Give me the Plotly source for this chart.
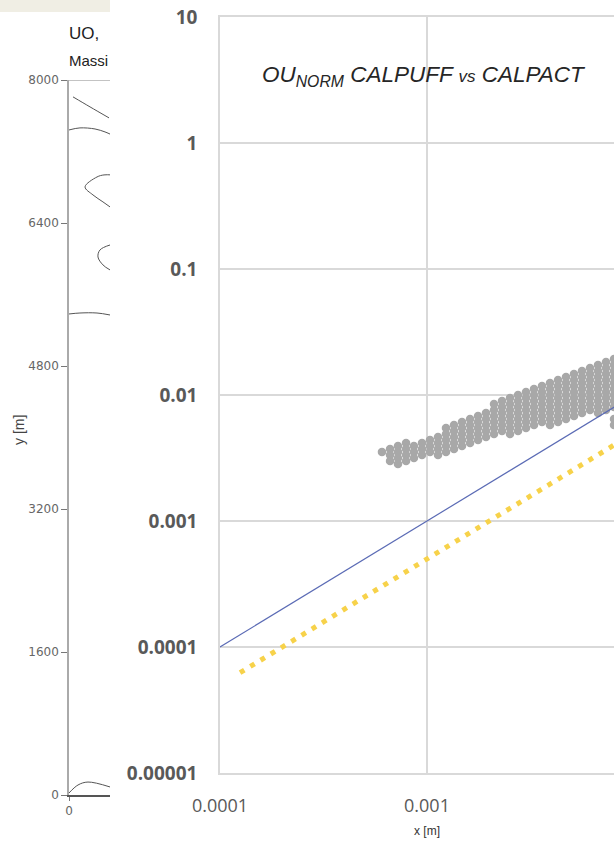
import plotly.graph_objects as go

# ---------------- Left (background) chart data ----------------
left_y_ticks = [0, 1600, 3200, 4800, 6400, 8000]
left_x_ticks = [0]

contour_a_x = [45, 236, 449]
contour_a_y = [7811, 7699, 7576]
contour_b_x = [0, 123, 292, 404, 482]
contour_b_y = [7441, 7464, 7452, 7419, 7385]
contour_c_x = [482, 393, 314, 180, 269, 381, 460]
contour_c_y = [6938, 6938, 6915, 6804, 6714, 6636, 6580]
contour_d_x = [460, 348, 325, 381, 460]
contour_d_y = [6154, 6099, 6020, 5931, 5875]
contour_e_x = [0, 123, 314, 460]
contour_e_y = [5382, 5393, 5393, 5371]
contour_f_x = [0, 101, 213, 460]
contour_f_y = [22, 112, 145, 90]

# ---------------- Right chart data ----------------
one_to_one_x = [1e-4, 1e-1]
one_to_one_y = [1e-4, 1e-1]
half_line_x = [1.25e-4, 1e-1]
half_line_y = [6.25e-5, 5e-2]

cloud_x_cols = [0.000606, 0.000663, 0.000724, 0.000792, 0.000865, 0.000946,
                0.001034, 0.001130, 0.001235, 0.001350, 0.001476, 0.001614,
                0.001764, 0.001928, 0.002107, 0.002304, 0.002518, 0.002752,
                0.003008, 0.003288, 0.003594, 0.003928, 0.004295, 0.004694,
                0.005131, 0.005609, 0.006130, 0.006701, 0.007323, 0.008005,
                0.008750]
cloud_y_cols = [
    [0.00353],
    [0.00373, 0.00334, 0.00299],
    [0.00394, 0.00353, 0.00316, 0.00283],
    [0.00416, 0.00373, 0.00334, 0.00299],
    [0.00394, 0.00353, 0.00316],
    [0.00416, 0.00373, 0.00334],
    [0.00439, 0.00394, 0.00353],
    [0.00464, 0.00416, 0.00373, 0.00334],
    [0.00547, 0.00490, 0.00439, 0.00394, 0.00353],
    [0.00578, 0.00518, 0.00464, 0.00416, 0.00373],
    [0.00611, 0.00547, 0.00490, 0.00439, 0.00394],
    [0.00645, 0.00578, 0.00518, 0.00464, 0.00416],
    [0.00681, 0.00611, 0.00547, 0.00490, 0.00439],
    [0.00720, 0.00645, 0.00578, 0.00518, 0.00464],
    [0.00848, 0.00760, 0.00681, 0.00611, 0.00547, 0.00490],
    [0.00896, 0.00803, 0.00720, 0.00645, 0.00578, 0.00518],
    [0.00947, 0.00848, 0.00760, 0.00681, 0.00611, 0.00547, 0.00490],
    [0.01000, 0.00896, 0.00803, 0.00720, 0.00645, 0.00578, 0.00518],
    [0.01056, 0.00947, 0.00848, 0.00760, 0.00681, 0.00611, 0.00547],
    [0.01116, 0.01000, 0.00896, 0.00803, 0.00720, 0.00645, 0.00578],
    [0.01179, 0.01056, 0.00947, 0.00848, 0.00760, 0.00681, 0.00611],
    [0.01245, 0.01116, 0.01000, 0.00896, 0.00803, 0.00720, 0.00645, 0.00578],
    [0.01315, 0.01179, 0.01056, 0.00947, 0.00848, 0.00760, 0.00681, 0.00611],
    [0.01390, 0.01245, 0.01116, 0.01000, 0.00896, 0.00803, 0.00720, 0.00645],
    [0.01468, 0.01315, 0.01179, 0.01056, 0.00947, 0.00848, 0.00760, 0.00681],
    [0.01551, 0.01390, 0.01245, 0.01116, 0.01000, 0.00896, 0.00803, 0.00720],
    [0.01638, 0.01468, 0.01315, 0.01179, 0.01056, 0.00947, 0.00848, 0.00760],
    [0.01730, 0.01551, 0.01390, 0.01245, 0.01116, 0.01000, 0.00896, 0.00803, 0.00720],
    [0.01827, 0.01638, 0.01468, 0.01315, 0.01179, 0.01056, 0.00947, 0.00848, 0.00760],
    [0.01930, 0.01730, 0.01551, 0.01390, 0.01245, 0.01116, 0.01000, 0.00896, 0.00803, 0.00645, 0.00578],
    [0.02040, 0.01827, 0.01638, 0.01468, 0.01315, 0.01179, 0.01056, 0.00947, 0.00848, 0.00760],
]

y_tick_vals = [1e-5, 1e-4, 1e-3, 1e-2, 1e-1, 1, 10]
y_tick_text = ["0.00001", "0.0001", "0.001", "0.01", "0.1", "1", "10"]
x_tick_vals = [1e-4, 1e-3, 1e-2, 1e-1]
x_tick_text = ["0.0001", "0.001", "0.01", "0.1"]

cloud_x = []
cloud_y = []
for xv, ys in zip(cloud_x_cols, cloud_y_cols):
    for yv in ys:
        cloud_x.append(xv)
        cloud_y.append(yv)

W, H = 614, 842
fig = go.Figure()

# left chart contours
for cx, cy in [(contour_a_x, contour_a_y), (contour_b_x, contour_b_y),
               (contour_c_x, contour_c_y), (contour_d_x, contour_d_y),
               (contour_e_x, contour_e_y), (contour_f_x, contour_f_y)]:
    fig.add_trace(go.Scatter(x=cx, y=cy, mode="lines", xaxis="x", yaxis="y",
                             line=dict(color="#555555", width=1, shape="spline"),
                             showlegend=False, hoverinfo="skip"))

# right chart
fig.add_trace(go.Scatter(x=cloud_x, y=cloud_y, mode="markers", xaxis="x2", yaxis="y2",
                         marker=dict(color="#A8A8A8", size=8.5, symbol="circle",
                                     line=dict(width=0)),
                         showlegend=False))
fig.add_trace(go.Scatter(x=one_to_one_x, y=one_to_one_y, mode="lines", xaxis="x2", yaxis="y2",
                         line=dict(color="#5B6BB5", width=1.2), showlegend=False))
fig.add_trace(go.Scatter(x=half_line_x, y=half_line_y, mode="lines", xaxis="x2", yaxis="y2",
                         line=dict(color="#F7D24A", width=5, dash="5px,7px"), showlegend=False))

grid_col = "#D9D9D9"
fig.update_layout(
    template="none",
    width=W, height=H, autosize=False,
    margin=dict(l=0, r=0, t=0, b=0, pad=0, autoexpand=False),
    paper_bgcolor="white", plot_bgcolor="white",
    showlegend=False,
    xaxis=dict(domain=[69 / W, 110 / W], range=[0, 460], anchor="y", automargin=False,
               showline=True, linecolor="#555555", linewidth=1.5,
               ticks="outside", ticklen=4, tickcolor="#777777",
               tickvals=left_x_ticks, ticktext=["0"],
               tickfont=dict(family="DejaVu Sans", size=12, color="#666666"),
               showgrid=False, zeroline=False),
    yaxis=dict(domain=[47 / H, 762 / H], range=[0, 8000], anchor="x", automargin=False,
               showline=True, linecolor="#AAAAAA", linewidth=1.5,
               ticks="outside", ticklen=6, tickcolor="#777777",
               tickvals=left_y_ticks,
               tickfont=dict(family="DejaVu Sans", size=12, color="#666666"),
               showgrid=False, zeroline=False),
    xaxis2=dict(type="log", domain=[220 / W, 1], range=[-4, -4 + (614 - 220) / 207],
                anchor="y2", automargin=False,
                showgrid=True, gridcolor=grid_col, gridwidth=1.5,
                showline=True, linecolor=grid_col, linewidth=1.5, mirror=True,
                tickvals=x_tick_vals, ticktext=x_tick_text, ticks="",
                ticklabelstandoff=16,
                tickfont=dict(family="Open Sans", size=18, color="#595959"),
                zeroline=False),
    yaxis2=dict(type="log", domain=[69 / H, 825 / H], range=[-5, 1],
                anchor="x2", automargin=False,
                showgrid=True, gridcolor=grid_col, gridwidth=1.5,
                showline=True, linecolor=grid_col, linewidth=1.5,
                tickvals=y_tick_vals, ticktext=y_tick_text, ticks="",
                ticklabelstandoff=17,
                tickfont=dict(family="Open Sans", size=19, color="#595959", weight="bold"),
                zeroline=False),
    shapes=[
        dict(type="rect", xref="paper", yref="paper", x0=0, x1=110 / W,
             y0=1 - 12 / H, y1=1, fillcolor="#F0EEE4", line=dict(width=0), layer="below"),
        dict(type="line", xref="x domain", yref="y", x0=0, x1=1, y0=8000, y1=8000,
             line=dict(color="#888888", width=1)),
    ],
    annotations=[
        dict(text="UO,", xref="paper", yref="paper", x=67 / W, y=1 - 33 / H,
             xanchor="left", yanchor="middle", showarrow=False,
             font=dict(family="Liberation Sans", size=17, color="#222222")),
        dict(text="Massi", xref="paper", yref="paper", x=67 / W, y=1 - 60 / H,
             xanchor="left", yanchor="middle", showarrow=False,
             font=dict(family="Liberation Sans", size=15, color="#222222")),
        dict(text="y [m]", xref="paper", yref="paper", x=19 / W, y=1 - 430 / H,
             xanchor="center", yanchor="middle", textangle=-90, showarrow=False,
             font=dict(family="Liberation Sans", size=14, color="#444444")),
        dict(text="<i>OU<sub>NORM</sub> CALPUFF <span style='font-size:17px'>vs</span> CALPACT</i>",
             xref="paper", yref="paper", x=424 / W, y=1 - 76 / H,
             xanchor="center", yanchor="middle", showarrow=False,
             font=dict(family="Liberation Sans", size=22.5, color="#262626")),
        dict(text="x [m]", xref="paper", yref="paper", x=427 / W, y=1 - 831 / H,
             xanchor="center", yanchor="middle", showarrow=False,
             font=dict(family="Liberation Sans", size=12, color="#333333")),
    ],
)

fig.write_html("out.html", config={"displayModeBar": False},
               post_script="document.body.style.margin='0';document.body.style.overflow='hidden';")
